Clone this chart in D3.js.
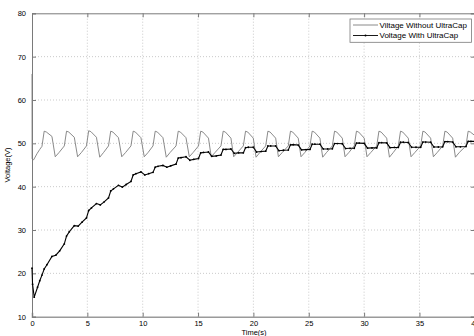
<!DOCTYPE html>
<html>
<head>
<meta charset="utf-8">
<script src="https://cdn.jsdelivr.net/npm/d3@7"></script>
<style>
  body { margin: 0; background: #fff; }
  text { font-family: "Liberation Sans", Arial, sans-serif; }
</style>
</head>
<body>
<div id="chart"></div>
<script>
(function () {

  // data: [time (s), voltage (V)]
  var withoutCap = [
    [0, 66.0], [0.01, 46.4], [0.15, 46.2], [0.45, 47.6], [0.7, 48.6],
    [0.90, 49.3], [1.10, 52.8], [1.30, 52.6], [1.80, 51.6], [2.10, 46.9], [2.45, 47.9],
    [2.92, 49.4], [3.12, 52.8], [3.32, 52.6], [3.82, 51.4], [4.12, 46.9], [4.47, 47.9],
    [4.92, 49.4], [5.12, 52.9], [5.32, 52.7], [5.82, 51.4], [6.12, 46.8], [6.47, 47.9],
    [6.91, 49.4], [7.11, 52.8], [7.31, 52.6], [7.81, 51.3], [8.11, 46.9], [8.46, 47.9],
    [8.94, 49.4], [9.14, 52.8], [9.34, 52.6], [9.84, 51.3], [10.14, 46.9], [10.49, 47.9],
    [10.93, 49.4], [11.13, 52.8], [11.33, 52.6], [11.83, 51.3], [12.13, 46.8], [12.48, 47.9],
    [13.01, 49.4], [13.21, 52.8], [13.41, 52.6], [13.91, 51.3], [14.21, 46.9], [14.56, 47.9],
    [15.04, 49.4], [15.24, 52.8], [15.44, 52.6], [15.94, 51.2], [16.19, 46.9], [16.54, 47.9],
    [17.07, 49.4], [17.27, 52.8], [17.47, 52.6], [17.97, 51.2], [18.22, 46.9], [18.57, 47.9],
    [19.09, 49.4], [19.29, 52.8], [19.49, 52.6], [19.99, 51.2], [20.24, 46.8], [20.59, 47.9],
    [21.11, 49.4], [21.31, 52.8], [21.51, 52.6], [22.01, 51.2], [22.26, 46.9], [22.61, 47.9],
    [23.15, 49.4], [23.35, 52.8], [23.55, 52.6], [24.05, 51.2], [24.30, 46.9], [24.65, 47.9],
    [25.11, 49.4], [25.31, 52.8], [25.51, 52.6], [26.01, 51.2], [26.26, 46.8], [26.61, 47.9],
    [27.13, 49.4], [27.33, 52.8], [27.53, 52.6], [28.03, 51.2], [28.28, 46.9], [28.63, 47.9],
    [29.11, 49.4], [29.31, 52.8], [29.51, 52.6], [30.01, 51.2], [30.26, 46.9], [30.61, 47.9],
    [31.14, 49.4], [31.34, 52.8], [31.54, 52.6], [32.04, 51.2], [32.29, 46.8], [32.64, 47.9],
    [33.09, 49.4], [33.29, 52.8], [33.49, 52.6], [33.99, 51.2], [34.24, 46.9], [34.59, 47.9],
    [35.11, 49.4], [35.31, 52.8], [35.51, 52.6], [36.01, 51.2], [36.26, 46.9], [36.61, 47.9],
    [37.10, 49.4], [37.30, 52.8], [37.50, 52.6], [38.00, 51.2], [38.25, 46.8], [38.60, 47.9],
    [39.20, 49.4], [39.40, 52.8], [39.60, 52.6], [40.00, 51.8]
  ]

  var withCap = [
    [0, 21.2], [0.05, 17.5], [0.2, 14.5], [0.5, 16.8], [0.7, 18.3],
    [0.90, 19.6], [1.10, 21.0], [1.35, 22.0], [1.80, 23.9], [2.15, 24.2], [2.50, 25.2],
    [2.92, 26.8], [3.12, 28.6], [3.37, 29.6], [3.82, 31.0], [4.17, 30.9], [4.52, 31.8],
    [4.92, 32.8], [5.12, 34.5], [5.37, 35.1], [5.82, 36.1], [6.17, 35.8], [6.52, 36.5],
    [6.91, 37.4], [7.11, 39.0], [7.36, 39.5], [7.81, 40.3], [8.16, 39.9], [8.51, 40.5],
    [8.94, 41.2], [9.14, 42.7], [9.39, 43.0], [9.84, 43.4], [10.19, 42.7], [10.54, 43.0],
    [10.93, 43.3], [11.13, 44.5], [11.38, 44.7], [11.83, 44.9], [12.18, 44.5], [12.53, 44.8],
    [13.01, 45.2], [13.21, 46.6], [13.46, 46.7], [13.91, 46.9], [14.26, 46.1], [14.61, 46.3],
    [15.04, 46.5], [15.24, 47.8], [15.49, 47.9], [15.94, 48.0], [16.24, 47.0], [16.64, 47.1],
    [17.07, 47.3], [17.27, 48.6], [17.52, 48.6], [17.97, 48.7], [18.27, 47.7], [18.67, 47.8],
    [19.09, 47.8], [19.29, 49.0], [19.54, 49.1], [19.99, 49.1], [20.29, 48.0], [20.69, 48.1],
    [21.11, 48.2], [21.31, 49.4], [21.56, 49.4], [22.01, 49.4], [22.31, 48.3], [22.71, 48.4],
    [23.15, 48.45], [23.35, 49.65], [23.60, 49.7], [24.05, 49.6], [24.35, 48.5], [24.75, 48.55],
    [25.11, 48.6], [25.31, 49.8], [25.56, 49.8], [26.01, 49.8], [26.31, 48.7], [26.71, 48.7],
    [27.13, 48.75], [27.33, 49.95], [27.58, 49.95], [28.03, 49.9], [28.33, 48.8], [28.73, 48.85],
    [29.11, 48.85], [29.31, 50.05], [29.56, 50.05], [30.01, 50.0], [30.31, 48.9], [30.71, 48.95],
    [31.14, 48.95], [31.34, 50.15], [31.59, 50.15], [32.04, 50.1], [32.34, 49.0], [32.74, 49.05],
    [33.09, 49.05], [33.29, 50.25], [33.54, 50.25], [33.99, 50.2], [34.29, 49.1], [34.69, 49.1],
    [35.11, 49.1], [35.31, 50.3], [35.56, 50.3], [36.01, 50.25], [36.31, 49.15], [36.71, 49.15],
    [37.10, 49.2], [37.30, 50.4], [37.55, 50.4], [38.00, 50.3], [38.30, 49.2], [38.70, 49.2],
    [39.20, 49.25], [39.40, 50.45], [39.65, 50.45], [40.00, 50.45]
  ]

  var xTicks = [0, 5, 10, 15, 20, 25, 30, 35, 40]
  var yTicks = [10, 20, 30, 40, 50, 60, 70, 80]
  var legendLabels = ["Viltage Without UltraCap", "Voltage With UltraCap"]

  var width = 474, height = 336
  var margin = { top: 13.3, right: -0.8, bottom: 19.3, left: 32 }

  var svg = d3.select("#chart").append("svg")
      .attr("width", width)
      .attr("height", height)

  var x = d3.scaleLinear().domain([0, 40]).range([margin.left, width - margin.right])
  var y = d3.scaleLinear().domain([10, 80]).range([height - margin.bottom, margin.top])

  // grid
  svg.selectAll(".gx").data(xTicks.slice(1, -1))
    .enter().append("line")
    .attr("x1", function(d) { return x(d) }).attr("x2", function(d) { return x(d) })
    .attr("y1", y(10)).attr("y2", y(80))
    .attr("stroke", "#bdbdbd").attr("stroke-width", 0.8).attr("stroke-dasharray", "1,2")

  svg.selectAll(".gy").data(yTicks.slice(1, -1))
    .enter().append("line")
    .attr("y1", function(d) { return y(d) }).attr("y2", function(d) { return y(d) })
    .attr("x1", x(0)).attr("x2", x(40))
    .attr("stroke", "#bdbdbd").attr("stroke-width", 0.8).attr("stroke-dasharray", "1,2")

  // axes (ticks inward like matlab)
  var axisColor = "#7a7a7a"
  var gb = svg.append("g").attr("transform", "translate(0," + y(10) + ")")
    .call(d3.axisBottom(x).tickValues(xTicks).tickSize(-4).tickPadding(4))
  var gt = svg.append("g").attr("transform", "translate(0," + y(80) + ")")
    .call(d3.axisTop(x).tickValues(xTicks).tickSize(-4).tickFormat(""))
  var gl = svg.append("g").attr("transform", "translate(" + x(0) + ",0)")
    .call(d3.axisLeft(y).tickValues(yTicks).tickSize(-4).tickPadding(6))
  var gr = svg.append("g").attr("transform", "translate(" + x(40) + ",0)")
    .call(d3.axisRight(y).tickValues(yTicks).tickSize(-4).tickFormat(""))

  ;[gb, gt, gl, gr].forEach(function(g) {
    g.selectAll("path").attr("stroke", axisColor).attr("stroke-width", 1)
    g.selectAll("line").attr("stroke", axisColor)
    g.selectAll("text").attr("fill", "#000").style("font-size", "7.5px")
      .style("font-family", "'Liberation Sans', Arial, sans-serif")
  })
  gb.select("path").attr("stroke-width", 1.6).attr("stroke", "#9a9a9a")

  var line = d3.line()
    .x(function(d) { return x(d[0]) })
    .y(function(d) { return y(d[1]) })

  svg.append("path").datum(withoutCap)
    .attr("d", line)
    .attr("fill", "none")
    .attr("stroke", "#7d7d7d")
    .attr("stroke-width", 0.9)

  svg.append("path").datum(withCap)
    .attr("d", line)
    .attr("fill", "none")
    .attr("stroke", "#000")
    .attr("stroke-width", 1.1)

  svg.selectAll(".dot").data(withCap)
    .enter().append("circle")
    .attr("cx", function(d) { return x(d[0]) })
    .attr("cy", function(d) { return y(d[1]) })
    .attr("r", 0.9)
    .attr("fill", "#000")

  // labels
  svg.append("text")
    .attr("x", 254).attr("y", 335)
    .attr("text-anchor", "middle")
    .style("font-size", "7.5px")
    .text("Time(s)")

  svg.append("text")
    .attr("transform", "translate(10," + y(45) + ") rotate(-90)")
    .attr("text-anchor", "middle")
    .style("font-size", "7.5px")
    .text("Voltage(V)")

  // legend
  var lg = svg.append("g").attr("transform", "translate(350,19)")
  lg.append("rect")
    .attr("width", 121.5).attr("height", 23.3)
    .attr("fill", "#fff").attr("stroke", axisColor).attr("stroke-width", 0.8)

  legendLabels.forEach(function(label, i) {
    var ly = 6 + i * 10.5
    lg.append("line")
      .attr("x1", 3).attr("x2", 28).attr("y1", ly).attr("y2", ly)
      .attr("stroke", i === 0 ? "#7d7d7d" : "#000").attr("stroke-width", 0.9)
    if (i === 1) {
      lg.append("circle").attr("cx", 15.5).attr("cy", ly).attr("r", 1).attr("fill", "#000")
    }
    lg.append("text")
      .attr("x", 29.5).attr("y", ly + 2.8)
      .style("font-size", "8px")
      .text(label)
  })

})()
</script>
</body>
</html>
